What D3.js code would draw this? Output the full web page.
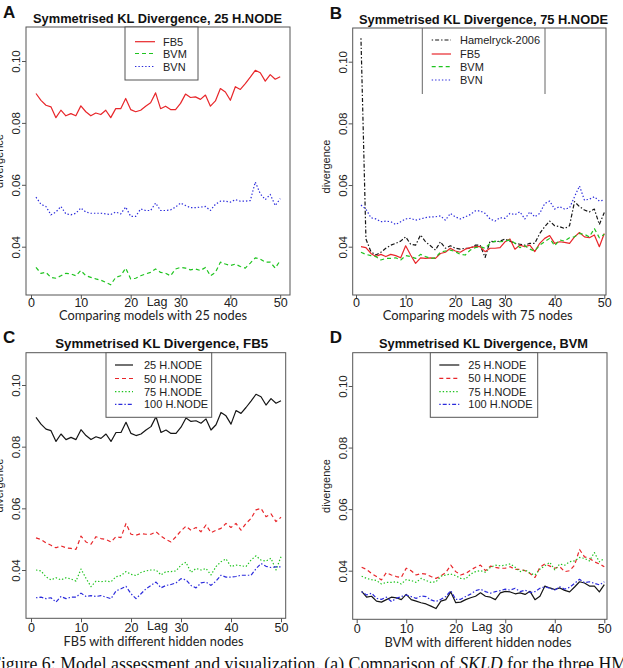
<!DOCTYPE html>
<html>
<head>
<meta charset="utf-8">
<script src="https://cdn.jsdelivr.net/npm/d3@7"></script>
<style>
  body { margin: 0; background: #fff; }
  svg { display: block; }
</style>
</head>
<body>
<svg id="fig" width="623" height="668"></svg>
<script>
// lag axis 1..50
const lags = d3.range(1, 51);
const xTicks = [0, 10, 20, 30, 40, 50];
const yTicks = [0.04, 0.06, 0.08, 0.10];

// FB5 model, by number of hidden nodes
const fb5_25 = [0.0895, 0.0873, 0.0857, 0.0852, 0.0817, 0.0841, 0.0823, 0.0830, 0.0823, 0.0855,
  0.0836, 0.0823, 0.0832, 0.0827, 0.0841, 0.0817, 0.0846, 0.0846, 0.0879, 0.0843,
  0.0836, 0.0841, 0.0854, 0.0865, 0.0897, 0.0846, 0.0854, 0.0843, 0.0843, 0.0863,
  0.0893, 0.0882, 0.0884, 0.0876, 0.0890, 0.0854, 0.0871, 0.0911, 0.0900, 0.0873,
  0.0917, 0.0908, 0.0927, 0.0948, 0.0970, 0.0962, 0.0935, 0.0956, 0.0941, 0.0949];
const fb5_50 = [0.0504, 0.0499, 0.0488, 0.0480, 0.0472, 0.0478, 0.0472, 0.0470, 0.0467, 0.0510,
  0.0491, 0.0484, 0.0508, 0.0502, 0.0499, 0.0491, 0.0508, 0.0505, 0.0551, 0.0516,
  0.0513, 0.0518, 0.0516, 0.0516, 0.0524, 0.0510, 0.0499, 0.0491, 0.0508, 0.0527,
  0.0542, 0.0529, 0.0538, 0.0524, 0.0546, 0.0521, 0.0529, 0.0535, 0.0551, 0.0538,
  0.0551, 0.0529, 0.0551, 0.0567, 0.0595, 0.0600, 0.0573, 0.0582, 0.0557, 0.0571];
const fb5_75 = [0.0400, 0.0397, 0.0378, 0.0368, 0.0375, 0.0368, 0.0375, 0.0371, 0.0364, 0.0403,
  0.0373, 0.0346, 0.0364, 0.0362, 0.0364, 0.0362, 0.0378, 0.0382, 0.0395, 0.0386,
  0.0382, 0.0392, 0.0397, 0.0400, 0.0400, 0.0384, 0.0395, 0.0395, 0.0397, 0.0416,
  0.0425, 0.0392, 0.0405, 0.0400, 0.0405, 0.0384, 0.0411, 0.0427, 0.0436, 0.0411,
  0.0416, 0.0414, 0.0411, 0.0432, 0.0446, 0.0432, 0.0429, 0.0438, 0.0400, 0.0443];
const fb5_100 = [0.0310, 0.0312, 0.0307, 0.0310, 0.0296, 0.0314, 0.0307, 0.0312, 0.0312, 0.0325,
  0.0314, 0.0317, 0.0314, 0.0317, 0.0312, 0.0307, 0.0332, 0.0339, 0.0347, 0.0323,
  0.0307, 0.0323, 0.0339, 0.0350, 0.0361, 0.0342, 0.0350, 0.0353, 0.0358, 0.0372,
  0.0368, 0.0350, 0.0342, 0.0358, 0.0361, 0.0350, 0.0364, 0.0383, 0.0377, 0.0377,
  0.0379, 0.0383, 0.0383, 0.0383, 0.0404, 0.0421, 0.0412, 0.0408, 0.0410, 0.0410];

// BVM model, by number of hidden nodes
const bvm_25 = [0.0333, 0.0314, 0.0317, 0.0301, 0.0298, 0.0306, 0.0314, 0.0312, 0.0306, 0.0323,
  0.0306, 0.0301, 0.0296, 0.0292, 0.0285, 0.0277, 0.0301, 0.0306, 0.0331, 0.0296,
  0.0298, 0.0306, 0.0312, 0.0317, 0.0328, 0.0317, 0.0314, 0.0306, 0.0328, 0.0333,
  0.0331, 0.0325, 0.0328, 0.0323, 0.0333, 0.0306, 0.0317, 0.0350, 0.0344, 0.0339,
  0.0344, 0.0336, 0.0331, 0.0347, 0.0364, 0.0360, 0.0350, 0.0350, 0.0331, 0.0355];
const bvm_50 = [0.0411, 0.0404, 0.0391, 0.0381, 0.0370, 0.0394, 0.0386, 0.0381, 0.0378, 0.0408,
  0.0400, 0.0386, 0.0391, 0.0389, 0.0381, 0.0375, 0.0383, 0.0394, 0.0418, 0.0397,
  0.0386, 0.0391, 0.0402, 0.0411, 0.0418, 0.0400, 0.0415, 0.0411, 0.0408, 0.0408,
  0.0413, 0.0404, 0.0404, 0.0400, 0.0391, 0.0378, 0.0411, 0.0422, 0.0415, 0.0408,
  0.0413, 0.0397, 0.0400, 0.0418, 0.0469, 0.0445, 0.0440, 0.0429, 0.0422, 0.0413];
const bvm_75 = [0.0382, 0.0375, 0.0371, 0.0368, 0.0357, 0.0362, 0.0362, 0.0364, 0.0357, 0.0371,
  0.0368, 0.0362, 0.0375, 0.0368, 0.0362, 0.0364, 0.0382, 0.0386, 0.0389, 0.0384,
  0.0375, 0.0373, 0.0389, 0.0397, 0.0400, 0.0395, 0.0411, 0.0418, 0.0416, 0.0418,
  0.0422, 0.0411, 0.0397, 0.0403, 0.0392, 0.0386, 0.0405, 0.0416, 0.0427, 0.0403,
  0.0422, 0.0418, 0.0429, 0.0432, 0.0443, 0.0440, 0.0432, 0.0459, 0.0429, 0.0440];
const bvm_100 = [0.0332, 0.0321, 0.0327, 0.0310, 0.0307, 0.0314, 0.0300, 0.0310, 0.0316, 0.0321,
  0.0316, 0.0310, 0.0318, 0.0316, 0.0305, 0.0300, 0.0307, 0.0316, 0.0335, 0.0307,
  0.0307, 0.0316, 0.0324, 0.0335, 0.0340, 0.0332, 0.0327, 0.0332, 0.0335, 0.0340,
  0.0337, 0.0343, 0.0332, 0.0337, 0.0329, 0.0332, 0.0343, 0.0348, 0.0343, 0.0337,
  0.0348, 0.0340, 0.0346, 0.0359, 0.0372, 0.0361, 0.0364, 0.0359, 0.0354, 0.0364];

// BVN model
const bvn_25 = [0.0560, 0.0537, 0.0530, 0.0503, 0.0512, 0.0530, 0.0506, 0.0503, 0.0508, 0.0525,
  0.0512, 0.0508, 0.0508, 0.0508, 0.0506, 0.0504, 0.0512, 0.0506, 0.0528, 0.0498,
  0.0498, 0.0522, 0.0517, 0.0517, 0.0541, 0.0517, 0.0517, 0.0519, 0.0528, 0.0541,
  0.0533, 0.0526, 0.0526, 0.0528, 0.0530, 0.0517, 0.0537, 0.0547, 0.0547, 0.0544,
  0.0552, 0.0547, 0.0547, 0.0549, 0.0609, 0.0571, 0.0552, 0.0569, 0.0533, 0.0555];
const bvn_75 = [0.0535, 0.0522, 0.0494, 0.0490, 0.0481, 0.0483, 0.0481, 0.0472, 0.0481, 0.0490,
  0.0492, 0.0486, 0.0490, 0.0494, 0.0497, 0.0497, 0.0500, 0.0486, 0.0508, 0.0497,
  0.0490, 0.0497, 0.0504, 0.0516, 0.0516, 0.0508, 0.0490, 0.0483, 0.0494, 0.0492,
  0.0508, 0.0504, 0.0513, 0.0490, 0.0513, 0.0497, 0.0508, 0.0540, 0.0548, 0.0522,
  0.0530, 0.0522, 0.0526, 0.0562, 0.0597, 0.0551, 0.0554, 0.0562, 0.0548, 0.0551];

// earlier TorusDBN model, 75 nodes
const hamelryck_75 = [0.1076, 0.0425, 0.0384, 0.0373, 0.0382, 0.0395, 0.0405, 0.0411, 0.0418, 0.0432,
  0.0408, 0.0405, 0.0438, 0.0416, 0.0403, 0.0389, 0.0416, 0.0395, 0.0403, 0.0395,
  0.0392, 0.0395, 0.0395, 0.0405, 0.0405, 0.0365, 0.0418, 0.0416, 0.0418, 0.0425,
  0.0418, 0.0411, 0.0408, 0.0405, 0.0411, 0.0411, 0.0443, 0.0465, 0.0483, 0.0468,
  0.0465, 0.0459, 0.0468, 0.0546, 0.0530, 0.0519, 0.0513, 0.0522, 0.0472, 0.0511];

// line styles (R lty 1..4)
const RED = '#e8262a', GREEN = '#1fc41f', BLUE = '#2b2bdc', BLACK = '#151515';
const SOLID = null, DASHED = '4,3', DOTTED = '1.4,2', DOTDASH = '1.4,2,4,2';

const panels = [
  {
    letter: 'A', title: 'Symmetrised KL Divergence, 25 H.NODE', titleX: 157.5, titleW: 249,
    xlab: 'Comparing models with 25 nodes', xlabW: 188,
    box: [26, 27, 290, 295], x0: 31, x50: 280.2, y04: 246.7, y10: 61,
    tickY: 11.5, lagY: 10.5, xlabY: 25, ylabDy: 0,
    series: [
      { name: 'FB5', values: fb5_25, color: RED, dash: SOLID },
      { name: 'BVM', values: bvm_25, color: GREEN, dash: DASHED },
      { name: 'BVN', values: bvn_25, color: BLUE, dash: DOTTED },
    ],
    legend: { box: [125, 27, 198, 80], rows: [41.7, 53.5, 66.5], sx: [135, 155], tx: 163, sidesOnly: false },
  },
  {
    letter: 'B', title: 'Symmetrised KL Divergence, 75 H.NODE', titleX: 483.5, titleW: 249,
    xlab: 'Comparing models with 75 nodes', xlabW: 190,
    box: [352.7, 28, 606, 295], x0: 356, x50: 604.3, y04: 246.7, y10: 61.7,
    tickY: 11.5, lagY: 10.5, xlabY: 25, ylabDy: 5,
    series: [
      { name: 'Hamelryck-2006', values: hamelryck_75, color: BLACK, dash: DOTDASH },
      { name: 'FB5', values: fb5_75, color: RED, dash: SOLID },
      { name: 'BVM', values: bvm_75, color: GREEN, dash: DASHED },
      { name: 'BVN', values: bvn_75, color: BLUE, dash: DOTTED },
    ],
    legend: { box: [422.3, 28, 545, 94], rows: [40, 54, 66.7, 80], sx: [431.7, 451], tx: 460, sidesOnly: true },
  },
  {
    letter: 'C', title: 'Symmetrised KL Divergence, FB5', titleX: 161.7, titleW: 213,
    xlab: 'FB5 with different hidden nodes', xlabW: 180,
    box: [26, 352.7, 285.7, 618.3], x0: 31, x50: 281, y04: 570, y10: 385,
    tickY: 13.5, lagY: 12, xlabY: 28, ylabDy: 0,
    series: [
      { name: '25 H.NODE', values: fb5_25, color: BLACK, dash: SOLID },
      { name: '50 H.NODE', values: fb5_50, color: RED, dash: DASHED },
      { name: '75 H.NODE', values: fb5_75, color: GREEN, dash: DOTTED },
      { name: '100 H.NODE', values: fb5_100, color: BLUE, dash: DOTDASH },
    ],
    legend: { box: [106, 352.7, 211.7, 417.3], rows: [365, 378.5, 391.7, 404.3], sx: [115, 133], tx: 144, sidesOnly: false },
  },
  {
    letter: 'D', title: 'Symmetrised KL Divergence, BVM', titleX: 483.5, titleW: 209,
    xlab: 'BVM with different hidden nodes', xlabW: 187,
    box: [352.7, 352.7, 607, 619.3], x0: 356.7, x50: 604.3, y04: 570.7, y10: 386,
    tickY: 13.5, lagY: 12, xlabY: 27.5, ylabDy: 0,
    series: [
      { name: '25 H.NODE', values: bvm_25, color: BLACK, dash: SOLID },
      { name: '50 H.NODE', values: bvm_50, color: RED, dash: DASHED },
      { name: '75 H.NODE', values: bvm_75, color: GREEN, dash: DOTTED },
      { name: '100 H.NODE', values: bvm_100, color: BLUE, dash: DOTDASH },
    ],
    legend: { box: [430.3, 352.7, 537.7, 417.3], rows: [365, 378.3, 391.7, 404.3], sx: [439.3, 459.3], tx: 468.3, sidesOnly: false },
  },
];

const svg = d3.select('#fig');
const SANS = '"Liberation Sans", Arial, sans-serif';

function drawPanel(p) {
  const [bx0, by0, bx1, by1] = p.box;
  const x = d3.scaleLinear().domain([0, 50]).range([p.x0, p.x50]);
  const y = d3.scaleLinear().domain([0.04, 0.10]).range([p.y04, p.y10]);
  const g = svg.append('g');

  // lines
  const line = d3.line().x((d, i) => x(lags[i])).y(d => y(d));
  p.series.forEach(s => {
    g.append('path')
      .attr('d', line(s.values))
      .attr('fill', 'none')
      .attr('stroke', s.color)
      .attr('stroke-width', 1.2)
      .attr('stroke-dasharray', s.dash)
      .attr('stroke-linejoin', 'round');
  });

  // plot frame
  g.append('rect')
    .attr('x', bx0).attr('y', by0)
    .attr('width', bx1 - bx0).attr('height', by1 - by0)
    .attr('fill', 'none').attr('stroke', '#555').attr('stroke-width', 1);

  // x axis
  const xa = g.append('g')
    .attr('transform', 'translate(0,' + by1 + ')')
    .call(d3.axisBottom(x).tickValues(xTicks).tickSize(4).tickFormat(d3.format('d')));
  xa.select('.domain').remove();
  xa.selectAll('line').attr('stroke', '#555');
  xa.selectAll('text')
    .attr('dy', null).attr('y', p.tickY)
    .style('font', '12.5px ' + SANS).attr('fill', '#222');

  // y axis, labels turned like R's default
  const ya = g.append('g')
    .attr('transform', 'translate(' + bx0 + ',0)')
    .call(d3.axisLeft(y).tickValues(yTicks).tickSize(4).tickFormat(d3.format('.2f')));
  ya.select('.domain').remove();
  ya.selectAll('line').attr('stroke', '#555');
  ya.selectAll('text')
    .attr('dy', null).attr('x', 0).attr('y', -6)
    .attr('transform', 'rotate(-90)')
    .attr('text-anchor', 'middle')
    .style('font', '11.5px ' + SANS).attr('fill', '#222');

  // y title
  const cy = (by0 + by1) / 2 + p.ylabDy;
  g.append('text')
    .attr('transform', 'translate(' + (bx0 - 23) + ',' + cy + ') rotate(-90)')
    .attr('text-anchor', 'middle')
    .style('font', '11px ' + SANS).attr('fill', '#222')
    .text('divergence');

  // "Lag" and sub caption
  g.append('text')
    .attr('x', x(25.3)).attr('y', by1 + p.lagY)
    .attr('text-anchor', 'middle')
    .style('font', '12.5px ' + SANS).attr('fill', '#222')
    .text('Lag');
  g.append('text')
    .attr('x', x(24.5)).attr('y', by1 + p.xlabY)
    .attr('text-anchor', 'middle')
    .attr('textLength', p.xlabW).attr('lengthAdjust', 'spacingAndGlyphs')
    .style('font', '13px Lato, "Open Sans", sans-serif').attr('fill', '#222')
    .text(p.xlab);

  // title + panel letter
  g.append('text')
    .attr('x', p.titleX).attr('y', by0 - 4.5)
    .attr('text-anchor', 'middle')
    .attr('textLength', p.titleW).attr('lengthAdjust', 'spacingAndGlyphs')
    .style('font', 'bold 13.5px ' + SANS).attr('fill', '#111')
    .text(p.title);
  g.append('text')
    .attr('x', bx0 - 23).attr('y', by0 - 9.5)
    .style('font', 'bold 17px ' + SANS).attr('fill', '#111')
    .text(p.letter);

  // legend
  const L = p.legend;
  if (L.sidesOnly) {
    [L.box[0], L.box[2]].forEach(lx => {
      g.append('line').attr('x1', lx).attr('x2', lx).attr('y1', L.box[1]).attr('y2', L.box[3])
        .attr('stroke', '#666').attr('stroke-width', 1);
    });
  } else {
    g.append('rect')
      .attr('x', L.box[0]).attr('y', L.box[1])
      .attr('width', L.box[2] - L.box[0]).attr('height', L.box[3] - L.box[1])
      .attr('fill', '#fff').attr('stroke', '#555').attr('stroke-width', 1);
  }
  p.series.forEach((s, i) => {
    g.append('line')
      .attr('x1', L.sx[0]).attr('x2', L.sx[1])
      .attr('y1', L.rows[i]).attr('y2', L.rows[i])
      .attr('stroke', s.color).attr('stroke-width', 1.2)
      .attr('stroke-dasharray', s.dash);
    g.append('text')
      .attr('x', L.tx).attr('y', L.rows[i] + 4)
      .style('font', '11px ' + SANS).attr('fill', '#222')
      .text(s.name);
  });
}

panels.forEach(drawPanel);

// cut-off figure caption along the bottom edge
const cap = svg.append('text')
  .attr('x', -9).attr('y', 670)
  .style('font', '17.8px "Liberation Serif", "Times New Roman", serif').attr('fill', '#111');
cap.append('tspan').text('Figure 6: Model assessment and visualization. (a) Comparison of ');
cap.append('tspan').style('font-style', 'italic').text('SKLD');
cap.append('tspan').text(' for the three HM');
</script>
</body>
</html>
